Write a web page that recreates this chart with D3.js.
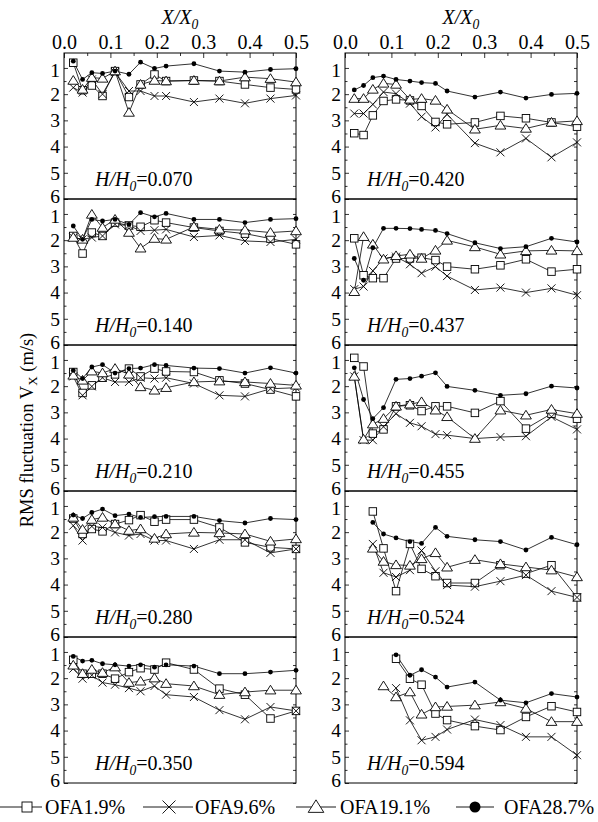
<!DOCTYPE html>
<html><head><meta charset="utf-8">
<script src="https://cdn.jsdelivr.net/npm/d3@7"></script>
<style>
body{margin:0;background:#fff}
svg{display:block}
text{font-family:"Liberation Serif","Times New Roman",serif;fill:#000}
</style>
</head><body><svg id="c" width="598" height="822"></svg>
<script>
// ---------- data ----------
const xPos = [0.02, 0.04, 0.06, 0.083, 0.11, 0.14, 0.165, 0.195, 0.22, 0.28, 0.335, 0.39, 0.445, 0.5];
const panelLabels = ["0.070", "0.140", "0.210", "0.280", "0.350", "0.420", "0.437", "0.455", "0.524", "0.594"];
const xTicks = [0, 0.1, 0.2, 0.3, 0.4, 0.5];
const yTicks = [1, 2, 3, 4, 5, 6];
const seriesNames = ["OFA1.9%", "OFA9.6%", "OFA19.1%", "OFA28.7%"];
const _ = null;

// OFA1.9% (open squares)
const ofa1_9 = [
  [0.80, 1.85, 1.67, 2.07, 1.12, 2.11, 1.63, 1.25, 1.50, 1.48, 1.50, 1.63, 1.75, 1.82],
  [1.84, 2.51, 1.71, 1.84, 1.33, 1.44, 1.49, 1.24, 1.33, 1.52, 1.65, 1.75, 1.94, 2.16],
  [1.46, 2.26, 1.97, 1.68, 1.55, 1.33, 1.63, 1.33, 1.44, 1.46, 1.78, 1.90, 2.13, 2.39],
  [1.48, 2.07, 1.88, 1.97, 1.69, 1.54, 1.35, 1.60, 1.52, 1.52, 1.82, 2.39, 2.58, 2.64],
  [1.30, 1.83, 1.83, 1.83, 2.02, 1.77, 1.62, 1.67, 1.41, 1.67, 2.40, 2.63, 3.54, 3.25],
  [3.49, 3.56, 2.81, 2.26, 2.20, 2.24, 2.45, 3.06, 3.15, 3.08, 2.83, 2.92, 3.08, 3.24],
  [1.93, 3.34, 3.45, 3.45, 2.70, 2.70, 2.67, 2.76, 3.01, 3.11, 2.96, 2.73, 3.20, 3.11],
  [0.92, 1.25, 3.81, 3.65, 2.77, 2.73, 2.95, 2.77, 2.77, 3.02, 2.57, 3.62, 3.05, 3.24],
  [_, _, 1.21, 2.62, 4.25, 2.45, 3.40, 3.68, 3.94, 3.94, 3.26, 3.58, 3.26, 4.49],
  [_, _, _, _, 1.26, 2.02, 2.25, 3.35, 3.60, 3.83, 3.98, 3.48, 3.07, 3.29]
];
// OFA9.6% (crosses)
const ofa9_6 = [
  [1.75, 1.94, 1.44, 2.00, 1.16, 1.88, 1.88, 2.07, 2.07, 2.30, 2.17, 2.35, 2.17, 2.05],
  [1.90, 1.97, 1.90, 1.84, 1.40, 1.44, 1.65, 1.62, 1.59, 1.88, 1.82, 2.03, 2.07, 1.97],
  [1.63, 2.35, 2.01, 1.68, 1.84, 1.84, 1.68, 1.71, 1.68, 1.90, 2.35, 2.39, 2.10, 2.06],
  [1.75, 2.32, 1.78, 1.82, 2.01, 2.13, 2.07, 2.32, 2.32, 2.64, 2.29, 2.29, 2.79, 2.64],
  [1.64, 2.02, 1.89, 2.17, 2.25, 2.38, 2.50, 2.30, 2.63, 2.72, 3.22, 3.57, 3.10, 3.25],
  [2.74, 2.74, 2.39, 1.92, 1.98, 2.36, 2.86, 3.27, 2.77, 3.87, 4.22, 3.69, 4.41, 3.84],
  [3.87, 3.77, 3.17, 2.70, 2.63, 2.92, 3.26, 3.01, 3.37, 3.90, 3.81, 4.00, 3.84, 4.10],
  [1.63, 4.06, 4.06, 3.55, 3.05, 3.40, 3.53, 3.83, 3.87, 4.00, 3.94, 3.91, 3.17, 3.65],
  [_, _, 2.45, 3.55, 3.71, 3.45, 2.70, 3.49, 4.02, 4.08, 3.87, 3.64, 4.25, 4.49],
  [_, _, _, _, 2.38, 3.61, 4.37, 4.24, 3.96, 3.58, 3.79, 4.24, 4.24, 4.94]
];
// OFA19.1% (open triangles)
const ofa19_1 = [
  [1.48, 1.82, 1.37, 1.40, 1.12, 2.70, 1.63, 1.48, 1.50, 1.48, 1.50, 1.35, 1.41, 1.54],
  [1.90, 1.97, 1.02, 1.52, 1.21, 1.71, 2.31, 1.94, 1.97, 1.49, 1.59, 1.62, 1.71, 1.65],
  [1.59, 1.78, 1.43, 1.50, 1.33, 1.55, 2.03, 2.16, 2.06, 1.84, 1.81, 1.84, 1.90, 1.97],
  [1.44, 1.90, 1.52, 1.44, 1.69, 1.94, 1.88, 2.24, 2.07, 2.01, 2.03, 2.07, 2.35, 2.26],
  [1.51, 1.83, 1.67, 1.79, 1.58, 2.17, 2.12, 2.00, 2.21, 2.30, 2.63, 2.53, 2.46, 2.46],
  [2.17, 2.17, 1.82, 1.59, 1.63, 2.20, 2.17, 2.24, 2.58, 3.34, 3.19, 3.31, 3.08, 3.02],
  [3.97, 1.87, 2.16, 2.73, 2.60, 2.54, 2.70, 2.39, 2.01, 2.26, 2.54, 2.41, 2.39, 2.41],
  [1.63, 4.03, 3.45, 3.24, 2.77, 2.69, 2.60, 2.92, 3.17, 4.00, 2.92, 3.11, 2.89, 3.05],
  [_, _, 2.62, 3.12, 3.25, 3.27, 3.02, 2.79, 3.34, 3.05, 3.21, 3.33, 3.45, 3.71],
  [_, _, _, 2.30, 2.72, 2.53, 3.38, 3.10, 3.08, 3.03, 2.91, 3.16, 3.66, 3.66]
];
// OFA28.7% (filled dots)
const ofa28_7 = [
  [0.74, 1.44, 1.18, 1.21, 1.12, 1.24, 0.78, 1.02, 0.93, 0.84, 1.12, 1.16, 1.06, 1.03],
  [1.46, 1.97, 1.21, 1.27, 1.21, 1.40, 0.95, 1.11, 0.98, 1.21, 1.21, 1.33, 1.21, 1.18],
  [1.40, 1.71, 1.27, 1.18, 1.50, 1.33, 1.31, 1.18, 1.21, 1.31, 1.33, 1.50, 1.30, 1.50],
  [1.35, 1.48, 1.25, 1.12, 1.37, 1.31, 1.44, 1.41, 1.40, 1.40, 1.56, 1.65, 1.48, 1.52],
  [1.17, 1.35, 1.32, 1.45, 1.49, 1.54, 1.49, 1.58, 1.49, 1.54, 1.83, 1.83, 1.77, 1.70],
  [1.84, 1.67, 1.37, 1.31, 1.44, 1.50, 1.56, 1.59, 1.88, 2.11, 1.92, 2.15, 2.01, 1.97],
  [2.70, 3.53, 2.29, 1.55, 1.55, 1.56, 1.59, 1.63, 1.75, 2.10, 2.32, 2.25, 1.93, 2.07],
  [1.30, 2.51, 3.24, 2.82, 1.74, 1.71, 1.62, 1.49, 2.01, 2.16, 2.35, 2.29, 2.00, 2.07],
  [_, _, 1.63, 2.07, 2.22, 2.36, 2.43, 1.82, 2.16, 2.29, 2.36, 2.68, 2.20, 2.48],
  [_, _, _, _, 1.11, 1.89, 1.68, 1.96, 2.34, 2.15, 2.84, 2.94, 2.59, 2.72]
];

// ---------- layout ----------
const svg = d3.select("#c");
const colX = [64, 345], W = 232, top0 = 53, PH = 146;
const FS = 20;
const xScales = colX.map(x0 => d3.scaleLinear().domain([0, 0.5]).range([x0, x0 + W]));

// marker painters
function drawMarker(g, type, cx, cy, s) {
  if (type === 0) {
    g.append("rect").attr("x", cx - s / 2).attr("y", cy - s / 2).attr("width", s).attr("height", s)
      .attr("fill", "#fff").attr("stroke", "#000").attr("stroke-width", 0.9);
  } else if (type === 1) {
    const h = s / 2;
    g.append("path").attr("d", `M${cx - h},${cy - h}L${cx + h},${cy + h}M${cx - h},${cy + h}L${cx + h},${cy - h}`)
      .attr("stroke", "#000").attr("stroke-width", 0.9).attr("fill", "none");
  } else if (type === 2) {
    const h = s * 0.55, w = s * 0.6;
    g.append("path").attr("d", `M${cx},${cy - h}L${cx + w},${cy + h * 0.75}L${cx - w},${cy + h * 0.75}Z`)
      .attr("fill", "#fff").attr("stroke", "#000").attr("stroke-width", 0.9);
  } else {
    g.append("circle").attr("cx", cx).attr("cy", cy).attr("r", s / 2).attr("fill", "#000");
  }
}

const allSeries = [ofa1_9, ofa9_6, ofa19_1, ofa28_7];
const markerSize = [7.5, 8, 9, 4.8];

panelLabels.forEach((lab, i) => {
  const col = Math.floor(i / 5), row = i % 5;
  const x = xScales[col];
  const y0 = top0 + row * PH;
  const y = d3.scaleLinear().domain([0.43, 6]).range([y0, y0 + PH]);
  const g = svg.append("g");

  // frame
  g.append("rect").attr("x", colX[col]).attr("y", y0).attr("width", W).attr("height", PH)
    .attr("fill", "none").attr("stroke", "#000").attr("stroke-width", 1);

  // y axis left (labels + inward ticks)
  const ax = g.append("g").attr("transform", `translate(${colX[col]},0)`)
    .call(d3.axisLeft(y).tickValues(yTicks).tickSize(-4).tickPadding(4).tickFormat(d3.format("d")));
  ax.select(".domain").remove();
  ax.selectAll("text").attr("font-size", 19.5).attr("font-family", "Liberation Serif")
    .attr("dy", d => d === 6 ? "0.18em" : (d === 1 ? "0.42em" : "0.32em"));
  ax.selectAll("line").attr("stroke-width", 0.8);
  const minorY = d3.range(1.5, 6, 1);
  const axm = g.append("g").attr("transform", `translate(${colX[col]},0)`)
    .call(d3.axisLeft(y).tickValues(minorY).tickSize(-2.5).tickFormat(""));
  axm.select(".domain").remove();
  axm.selectAll("line").attr("stroke-width", 0.8);
  // right side ticks
  const axr = g.append("g").attr("transform", `translate(${colX[col] + W},0)`)
    .call(d3.axisRight(y).tickValues(yTicks.concat(minorY)).tickSize(-3).tickFormat(""));
  axr.select(".domain").remove();
  axr.selectAll("line").attr("stroke-width", 0.8);

  // top axis on first row
  if (row === 0) {
    const at = g.append("g").attr("transform", `translate(0,${y0})`)
      .call(d3.axisTop(x).tickValues(xTicks).tickSize(-5).tickPadding(4).tickFormat(d3.format(".1f")));
    at.select(".domain").remove();
    at.selectAll("text").attr("font-size", FS).attr("font-family", "Liberation Serif");
    at.selectAll("line").attr("stroke-width", 0.8);
    const atm = g.append("g").attr("transform", `translate(0,${y0})`)
      .call(d3.axisTop(x).tickValues(d3.range(0.05, 0.5, 0.1)).tickSize(-3).tickFormat(""));
    atm.select(".domain").remove();
    atm.selectAll("line").attr("stroke-width", 0.8);
    const tt = g.append("text").attr("x", colX[col] + W / 2).attr("y", 24)
      .attr("text-anchor", "middle").attr("font-size", FS);
    tt.append("tspan").attr("font-style", "italic").text("X/X");
    tt.append("tspan").attr("font-style", "italic").attr("font-size", FS * 0.68).attr("dy", 5).text("0");
  }

  // lines
  const line = d3.line().defined(d => d[1] != null).x(d => x(d[0])).y(d => y(d[1]));
  allSeries.forEach(ser => {
    const pts = xPos.map((xv, k) => [xv, ser[i][k]]);
    g.append("path").attr("d", line(pts)).attr("fill", "none").attr("stroke", "#000").attr("stroke-width", 0.8);
  });
  // markers
  allSeries.forEach((ser, s) => {
    xPos.forEach((xv, k) => {
      const v = ser[i][k];
      if (v == null) return;
      drawMarker(g, s, x(xv), y(v), markerSize[s]);
    });
  });

  // panel label
  const lt = g.append("text").attr("x", colX[col] + (col === 0 ? 31 : 22)).attr("y", y0 + PH - 13)
    .attr("font-size", FS);
  lt.append("tspan").attr("font-style", "italic").text("H/H");
  lt.append("tspan").attr("font-style", "italic").attr("font-size", FS * 0.68).attr("dy", 5).text("0");
  lt.append("tspan").attr("dy", -5).text("=" + lab);
});

// y title
const yt = svg.append("text").attr("transform", "translate(33,430) rotate(-90)")
  .attr("text-anchor", "middle").attr("font-size", 18.5);
yt.append("tspan").text("RMS fluctuation V");
yt.append("tspan").attr("font-size", 13).attr("dy", 4).text("X");
yt.append("tspan").attr("dy", -4).text(" (m/s)");

// legend
const legY = 807;
const legItems = [
  { x1: 0, x2: 42, mx: 27, tx: 45, size: 10 },
  { x1: 143, x2: 193, mx: 169, tx: 195, size: 13 },
  { x1: 296, x2: 336, mx: 316, tx: 340, size: 13 },
  { x1: 456, x2: 494, mx: 475, tx: 504, size: 11 }
];
const lg = svg.append("g");
seriesNames.forEach((nm, s) => {
  const it = legItems[s];
  lg.append("line").attr("x1", it.x1).attr("x2", it.x2).attr("y1", legY).attr("y2", legY)
    .attr("stroke", "#000").attr("stroke-width", 0.9);
  drawMarker(lg, s, it.mx, legY, it.size);
  lg.append("text").attr("x", it.tx).attr("y", legY + 7).attr("font-size", FS).text(nm);
});
</script>
</body></html>
